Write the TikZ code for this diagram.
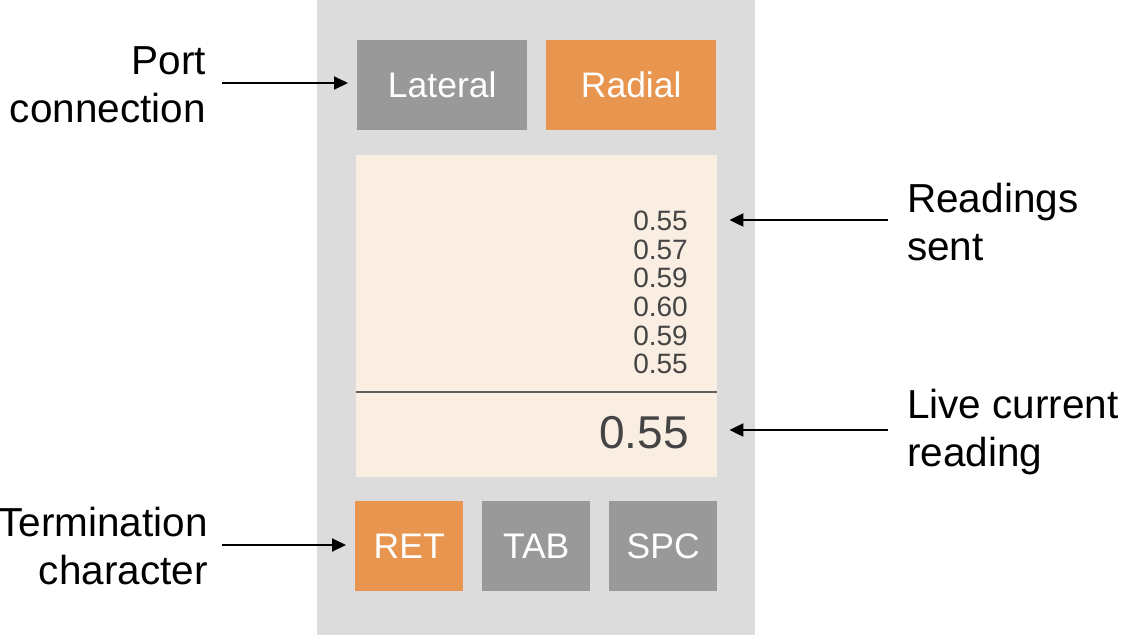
\documentclass[tikz,border=0pt]{standalone}
\usepackage{fontspec}
\setmainfont{Liberation Sans}
\usetikzlibrary{arrows.meta}
\definecolor{panelgray}{HTML}{DCDCDC}
\definecolor{btngray}{HTML}{999999}
\definecolor{btnorange}{HTML}{E8964F}
\definecolor{readbg}{HTML}{FAEEE3}
\definecolor{numgray}{HTML}{444444}
\definecolor{divider}{HTML}{5F5F5F}
\tikzset{
  btn/.style={draw=none, inner sep=0pt, text=white, font=\fontsize{35.5}{35.5}\selectfont, anchor=north west},
  graybtn/.style={btn, fill=btngray},
  orangebtn/.style={btn, fill=btnorange},
  lbl/.style={inner sep=0pt, font=\fontsize{40.5}{47.5}\selectfont, text=black},
  pointer/.style={line width=2pt, -{Triangle[length=14pt,width=13pt]}},
}
\begin{document}
\begin{tikzpicture}[x=1pt,y=-1pt]
\useasboundingbox (0,0) rectangle (1123,635);
% panel
\node[fill=panelgray, inner sep=0pt, minimum width=438pt, minimum height=635pt, anchor=north west] (panel) at (317,0) {};
% top buttons
\node[graybtn, minimum width=170pt, minimum height=90pt] (lateral) at (357,40) {Lateral};
\node[orangebtn, minimum width=170pt, minimum height=90pt] (radial) at (546,40) {Radial};
% readings area
\node[fill=readbg, inner sep=0pt, minimum width=361pt, minimum height=322pt, anchor=north west] (readings) at (356,155) {};
\coordinate (divl) at (356,392);
\coordinate (divr) at (717,392);
\draw[divider, line width=2.5pt] (divl) -- (divr);
\node[anchor=east, inner sep=0pt, align=right, text=numgray, font=\fontsize{28}{28.7}\selectfont] (nums) at (688,292.5) {0.55\\0.57\\0.59\\0.60\\0.59\\0.55};
\node[anchor=east, inner sep=0pt, text=numgray, font=\fontsize{46}{46}\selectfont] (live) at (689,433) {0.55};
% bottom buttons
\node[orangebtn, minimum width=108pt, minimum height=90pt] (ret) at (355,501) {RET};
\node[graybtn, minimum width=108pt, minimum height=90pt] (tab) at (482,501) {TAB};
\node[graybtn, minimum width=108pt, minimum height=90pt] (spc) at (609,501) {SPC};
% labels
\node[lbl, anchor=east, align=right] (portlbl) at (206,85) {Port\\connection};
\node[lbl, anchor=east, align=right] (termlbl) at (208,546) {Termination\\character};
\node[lbl, anchor=west, align=left] (readlbl) at (907,222) {Readings\\sent};
\node[lbl, anchor=west, align=left] (livelbl) at (907,432) {Live current\\reading};
% arrow end points
\coordinate (pa) at (222,83);
\coordinate (ta) at (222,545);
\coordinate (ra) at (888,220);
\coordinate (la) at (888,430);
% arrows
\draw[pointer, shorten >=9pt] (pa) -- (lateral.west |- pa);
\draw[pointer, shorten >=9pt] (ta) -- (ret.west |- ta);
\draw[pointer, shorten >=12pt] (ra) -- (readings.east |- ra);
\draw[pointer, shorten >=12pt] (la) -- (readings.east |- la);
\end{tikzpicture}
\end{document}
